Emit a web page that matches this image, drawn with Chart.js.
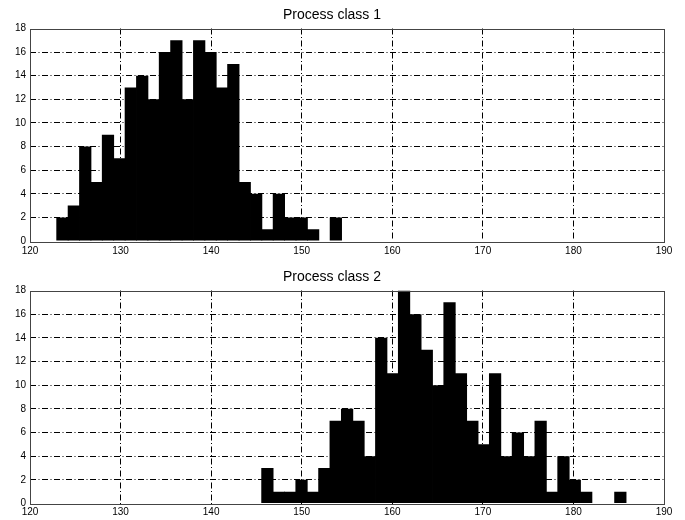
<!DOCTYPE html>
<html>
<head>
<meta charset="utf-8">
<script src="https://cdn.jsdelivr.net/npm/chart.js@4.4.1/dist/chart.umd.min.js"></script>
<style>
  html, body { margin: 0; padding: 0; background: #fff; }
  #wrap { position: relative; width: 685px; height: 520px; }
  canvas { position: absolute; left: 0; }
</style>
</head>
<body>
<div id="wrap">
  <canvas id="c1" width="685" height="260" style="top:0px"></canvas>
  <canvas id="c2" width="685" height="260" style="top:260px"></canvas>
</div>
<script>
// ---- Data ----
const titles = ["Process class 1", "Process class 2"];

const binCenters1 = [123.58, 124.84, 126.10, 127.35, 128.61, 129.87, 131.13, 132.39, 133.64, 134.90,
                     136.16, 137.42, 138.68, 139.93, 141.19, 142.45, 143.71, 144.97, 146.22, 147.48,
                     148.74, 150.00, 151.26, 152.51, 153.77];
const counts1 = [2, 3, 8, 5, 9, 7, 13, 14, 12, 16, 17, 12, 17, 16, 13, 15, 5, 4, 1, 4, 2, 2, 1, 0, 2];

const binCenters2 = [146.21, 147.47, 148.72, 149.98, 151.24, 152.50, 153.75, 155.01, 156.27, 157.52,
                     158.78, 160.04, 161.30, 162.55, 163.81, 165.07, 166.32, 167.58, 168.84, 170.10,
                     171.35, 172.61, 173.87, 175.12, 176.38, 177.64, 178.90, 180.15, 181.41, 182.67,
                     183.92, 185.18];
const counts2 = [3, 1, 1, 2, 1, 3, 7, 8, 7, 4, 14, 11, 18, 16, 13, 10, 17, 11, 7, 5,
                 11, 4, 6, 4, 7, 1, 4, 2, 1, 0, 0, 1];

const xTickValues = [120, 130, 140, 150, 160, 170, 180, 190];
const yTickValues = [0, 2, 4, 6, 8, 10, 12, 14, 16, 18];

// ---- Chart construction ----
const FONT = "'Liberation Sans', Arial, Helvetica, sans-serif";

const framePlugin = {
  id: 'frame',
  afterDraw(chart) {
    const a = chart.chartArea, ctx = chart.ctx;
    ctx.save();
    ctx.setLineDash([]);
    ctx.strokeStyle = '#444';
    ctx.lineWidth = 1;
    ctx.strokeRect(Math.round(a.left) + 0.5, Math.round(a.top) + 0.5,
                   Math.round(a.right - a.left), Math.round(a.bottom - a.top));
    ctx.restore();
  }
};

function makeChart(id, title, centers, counts, cfg) {
  const data = centers.map((c, i) => ({ x: c, y: counts[i] }));
  const xMin = xTickValues[0], xMax = xTickValues[xTickValues.length - 1];
  const yMin = yTickValues[0], yMax = yTickValues[yTickValues.length - 1];
  return new Chart(document.getElementById(id), {
    type: 'bar',
    data: {
      datasets: [{
        data: data,
        backgroundColor: '#000',
        borderWidth: 0,
        barPercentage: 1.08,
        categoryPercentage: 1.0
      }]
    },
    options: {
      responsive: false,
      animation: false,
      events: [],
      layout: { padding: { left: 0, right: 21, top: 0, bottom: 0 } },
      plugins: {
        legend: { display: false },
        tooltip: { enabled: false },
        title: {
          display: true,
          text: title,
          color: '#000',
          font: { family: FONT, size: 14, weight: 'normal' },
          padding: { top: cfg.titleTop, bottom: cfg.titleBottom }
        }
      },
      scales: {
        x: {
          type: 'linear',
          min: xMin, max: xMax,
          offset: false,
          afterBuildTicks: s => { s.ticks = xTickValues.map(v => ({ value: v })); },
          afterFit: s => { s.height = cfg.xHeight; },
          ticks: { color: '#000', font: { family: FONT, size: 10 }, padding: cfg.xPad, maxRotation: 0, autoSkip: false },
          grid: {
            offset: false,
            drawTicks: false,
            color: c => (c.tick && (c.tick.value === xMin || c.tick.value === xMax)) ? 'rgba(0,0,0,0)' : '#000',
            lineWidth: 1
          },
          border: { display: false, dash: [6, 2.5, 1, 2.5] }
        },
        y: {
          min: yMin, max: yMax,
          afterBuildTicks: s => { s.ticks = yTickValues.map(v => ({ value: v })); },
          afterFit: s => { s.width = 30; },
          ticks: { color: '#000', font: { family: FONT, size: 10 }, padding: 4, autoSkip: false },
          grid: {
            drawTicks: false,
            color: c => (c.tick && (c.tick.value === yMin || c.tick.value === yMax)) ? 'rgba(0,0,0,0)' : '#000',
            lineWidth: 1
          },
          border: { display: false, dash: [6, 2.5, 1, 2.5] }
        }
      }
    },
    plugins: [framePlugin]
  });
}

makeChart('c1', titles[0], binCenters1, counts1, { titleTop: 6.5, titleBottom: 5.2, xHeight: 19, xPad: 4 });
makeChart('c2', titles[1], binCenters2, counts2, { titleTop: 8.8, titleBottom: 4.9, xHeight: 16.5, xPad: 3 });
</script>
</body>
</html>
